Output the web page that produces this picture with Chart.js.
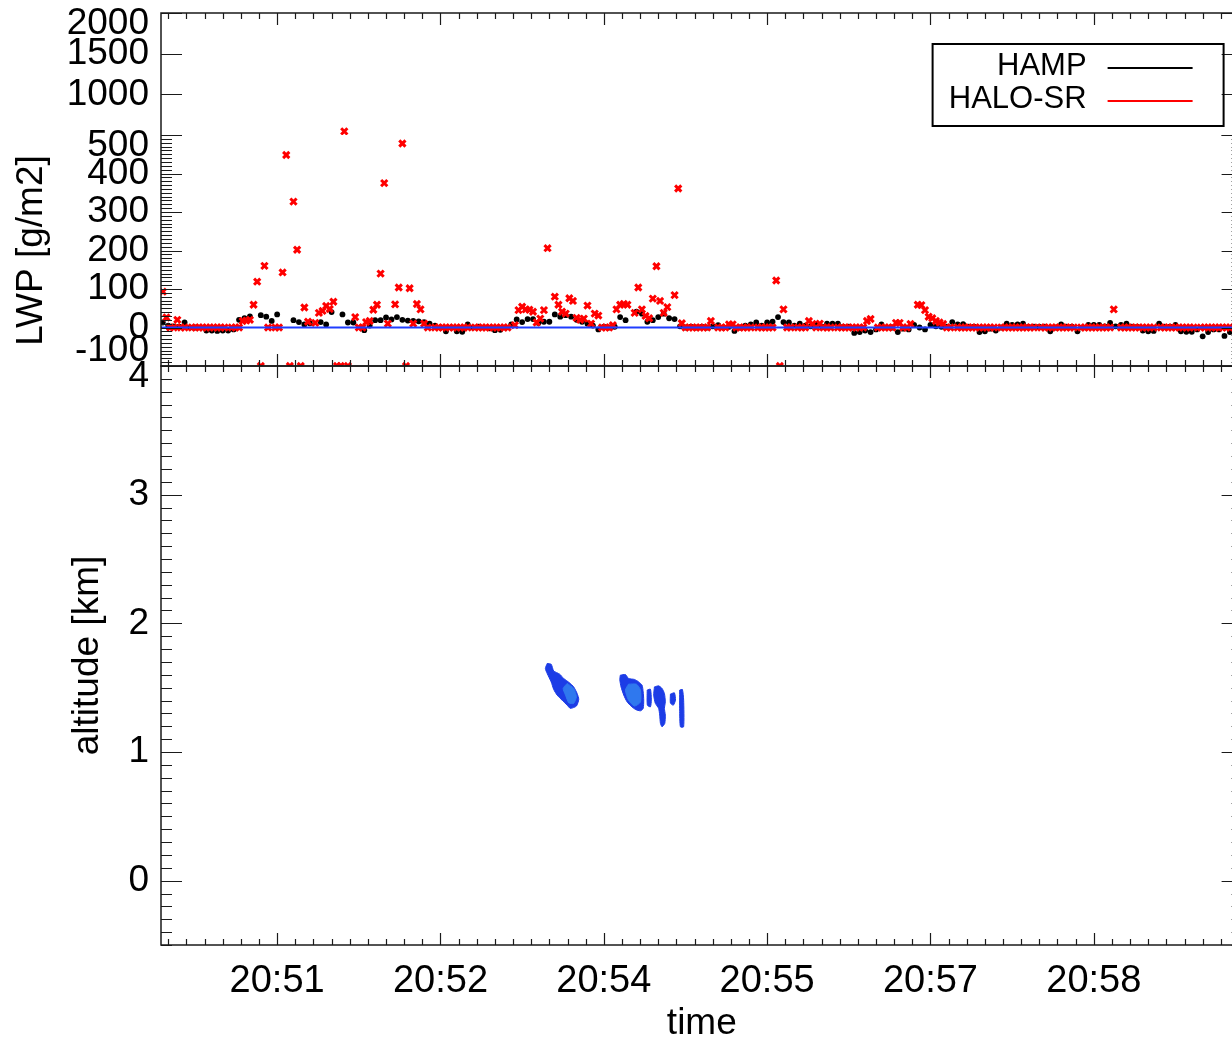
<!DOCTYPE html>
<html>
<head>
<meta charset="utf-8">
<script src="https://cdn.jsdelivr.net/npm/chart.js@4.4.1/dist/chart.umd.min.js"></script>
<style>
  html, body { margin: 0; padding: 0; background: #fff; overflow: hidden; }
  #chart { display: block; }
</style>
</head>
<body>
<canvas id="chart" width="1250" height="1040"></canvas>
<script>
// Tempo em segundos depois de 20:00:00
var timeMin = 2996;
var timeMax = 3592;
var timeTicks = [3060, 3150, 3240, 3330, 3420, 3510];
var timeTickLabels = ['20:51', '20:52', '20:54', '20:55', '20:57', '20:58'];

var lwpTicks = [-100, 0, 100, 200, 300, 400, 500];
var lwpHighTicks = [500, 1000, 1500, 2000];
var altTicks = [0, 1, 2, 3, 4];

// HALO-SR: um valor a cada 2 s a partir de 20:49:57 (g/m2)
var srStart = 2997;
var srStep = 2;
var srLwp = [
  93, 26, 0, 0, 20, 0, 0, null, 0, 0,
  0, 0, 0, 0, 0, 0, 0, 0, null, 0,
  0, 0, 17, 18, 20, 59, 119, -100, 160, 0,
  null, 0, 0, 143, 448, -100, 327, 202, -100, 52,
  15, null, 12, 38, 43, 56, 48, 67, -100, -100,
  545, -100, null, 27, 0, 0, 14, 17, 46, 59,
  140, 375, 10, null, 60, 104, 478, -100, 102, 10,
  61, 47, 10, 0, null, 0, 0, 0, 0, 0,
  0, 0, 0, 0, 0, null, 0, 0, 0, 0,
  0, 0, 0, 0, 0, 0, null, 6, 45, 54,
  47, 46, 41, 13, 23, 45, 206, null, 80, 59,
  41, 36, 76, 69, 25, 20, 23, 57, 10, 36,
  31, 0, 0, 0, 6, 47, 59, 61, 59, null,
  38, 104, 47, 30, 24, 75, 159, 69, 38, 53,
  null, 84, 361, 11, 0, 0, 0, 0, 0, 0,
  0, 17, null, 0, 0, 0, 8, 8, 0, 0,
  0, 0, 0, null, 0, 0, 0, 0, 0, 122,
  -100, 47, 0, 0, null, 0, 0, 0, 17, 9,
  0, 10, 0, 0, 0, null, 0, 0, 0, 0,
  0, 0, 0, 0, 17, 22, null, 0, 0, 0,
  0, 0, 12, 12, 0, 0, 9, null, 59, 58,
  45, 28, 24, 17, 13, 9, 0, 0, null, 0,
  0, 0, 0, 0, 0, 0, 0, 0, 0, 0,
  null, 0, 0, 0, 0, 0, 0, 0, 0, 0,
  0, null, 0, 0, 0, 0, 0, 0, 0, 0,
  0, 0, null, 0, 0, 0, 0, 0, 0, 0,
  0, 0, 47, null, 0, 0, 0, 0, 0, 0,
  0, 0, 0, 0, null, 0, 0, 0, 0, 0,
  0, 0, 0, 0, 0, null, 0, 0, 0, 0,
  0, 0, 0, 0, 0, 0, null, 0
];

// HAMP: um valor a cada 3 s a partir de 20:49:57 (g/m2)
var hampStart = 2997;
var hampStep = 3;
var hampLwp = [
  13, 5, 3, 2, 13, 0, 0, 0, -8, -8,
  -9, -8, -8, -5, 20, 24, 29, null, 32, 28,
  17, 34, null, null, 19, 14, 8, 11, null, 14,
  8, 40, null, 34, 13, 13, null, -7, 5, 19,
  19, 26, 21, 27, 20, 18, 17, 16, 14, 10,
  5, 0, -10, null, -10, -11, 8, 0, 2, 0,
  -2, -7, -6, 0, 8, 21, 14, 22, 22, 12,
  15, 15, 34, 28, 32, 28, 20, 15, 10, 5,
  -5, 2, 0, 2, 27, 19, null, 41, 36, 15,
  19, 27, 36, 24, 22, 3, 0, 2, 0, 2,
  0, 3, 6, 0, 2, -9, 0, 5, 8, 13,
  5, 13, 15, 27, 14, 13, 5, 10, 5, 3,
  8, 3, 10, 10, 10, 2, 2, -14, -12, -8,
  -12, -5, 8, 0, 0, -12, -3, -5, 7, 0,
  -5, 7, 3, 2, 2, 14, 8, 9, 2, 2,
  -12, -10, -3, -8, 0, 10, 7, 8, 10, 2,
  2, 2, 2, -10, 0, 8, 2, 2, -10, 0,
  7, 7, 7, 3, 12, 3, 7, 10, 2, 2,
  -8, -10, -9, 10, 2, 2, 7, -10, -11, -11,
  -5, -23, -12, -5, -5, -22, -12, -10, -8
];

// Linha de referência LWP = 0
var zeroLineTimes = [timeMin, timeMax];
var zeroLineLwp = [0, 0];

// Contornos das nuvens: [tempo (s), altitude (km)]
var cloudA = [[3208.8, 1.688], [3211.0, 1.682], [3212.4, 1.630], [3215.7, 1.605], [3217.9, 1.571],
  [3221.2, 1.537], [3223.4, 1.506], [3225.3, 1.455], [3226.2, 1.409], [3224.9, 1.357],
  [3221.6, 1.339], [3219.8, 1.364], [3217.0, 1.403], [3214.3, 1.442], [3212.4, 1.486],
  [3211.0, 1.545], [3208.8, 1.610], [3207.8, 1.649]];
var cloudAcore = [[3219.8, 1.533], [3223.4, 1.494], [3224.9, 1.429], [3223.4, 1.378],
  [3220.7, 1.382], [3218.9, 1.442], [3217.6, 1.494]];
var cloudB = [[3249.1, 1.597], [3251.9, 1.602], [3253.7, 1.571], [3256.9, 1.564], [3259.2, 1.545],
  [3261.1, 1.519], [3261.7, 1.467], [3262.0, 1.403], [3261.7, 1.339], [3260.2, 1.320],
  [3257.4, 1.331], [3255.0, 1.357], [3252.8, 1.390], [3251.0, 1.442], [3249.5, 1.506],
  [3248.8, 1.564]];
var cloudBcore = [[3253.6, 1.527], [3258.0, 1.527], [3260.2, 1.481], [3260.2, 1.388],
  [3256.9, 1.357], [3253.6, 1.403], [3251.9, 1.481]];
var cloudC = [[3263.9, 1.481], [3265.7, 1.488], [3266.2, 1.403], [3265.7, 1.351], [3264.0, 1.364]];
var cloudD = [[3267.9, 1.506], [3270.2, 1.514], [3272.1, 1.494], [3273.4, 1.455], [3273.9, 1.390],
  [3273.4, 1.339], [3273.9, 1.287], [3273.6, 1.222], [3272.1, 1.196], [3271.2, 1.222],
  [3270.8, 1.287], [3270.2, 1.339], [3268.4, 1.378], [3267.5, 1.442]];
var cloudE = [[3276.7, 1.450], [3278.9, 1.460], [3279.5, 1.403], [3278.3, 1.364], [3276.7, 1.380]];
var cloudF = [[3281.8, 1.481], [3283.3, 1.486], [3284.0, 1.403], [3284.0, 1.196], [3282.2, 1.196],
  [3281.8, 1.326]];

var fontFamily = '"Liberation Sans", Arial, Helvetica, sans-serif';
Chart.defaults.font.family = fontFamily;
Chart.defaults.color = '#000';

// Monta os pontos das séries
function seriesPoints(start, step, values, keep) {
  var pts = [];
  for (var i = 0; i < values.length; i++) {
    var v = values[i];
    if (v !== null && keep(v)) pts.push({ x: start + i * step, y: v });
  }
  return pts;
}

function polygon(points, color) {
  var data = points.map(function (p) { return { x: p[0], y: p[1] }; });
  data.push({ x: points[0][0], y: points[0][1] });
  return {
    data: data,
    yAxisID: 'yAlt',
    showLine: true,
    fill: 'shape',
    backgroundColor: color,
    borderColor: color,
    borderWidth: 1,
    pointRadius: 0,
    tension: 0.2
  };
}

var darkBlue = '#1c3ce6';
var lightBlue = '#2f78ee';

var datasets = [
  {
    label: 'zero',
    data: zeroLineTimes.map(function (t, i) { return { x: t, y: zeroLineLwp[i] }; }),
    yAxisID: 'yLow',
    showLine: true,
    borderColor: '#1f3dff',
    borderWidth: 2,
    pointRadius: 0
  },
  {
    label: 'HALO-SR',
    inKey: true,
    data: seriesPoints(srStart, srStep, srLwp, function (v) { return v <= 500; }),
    yAxisID: 'yLow',
    pointStyle: 'crossRot',
    pointRadius: 4.4,
    pointBorderWidth: 3,
    borderColor: '#ff0000',
    backgroundColor: '#ff0000'
  },
  {
    label: 'HALO-SR (>500)',
    data: seriesPoints(srStart, srStep, srLwp, function (v) { return v > 500; }),
    yAxisID: 'yHigh',
    pointStyle: 'crossRot',
    pointRadius: 4.4,
    pointBorderWidth: 3,
    borderColor: '#ff0000',
    backgroundColor: '#ff0000'
  },
  {
    label: 'HAMP',
    inKey: true,
    data: seriesPoints(hampStart, hampStep, hampLwp, function () { return true; }),
    yAxisID: 'yLow',
    pointStyle: 'circle',
    pointRadius: 2.9,
    pointBorderWidth: 0,
    borderColor: '#000000',
    backgroundColor: '#000000'
  },
  polygon(cloudAcore, lightBlue),
  polygon(cloudBcore, lightBlue),
  polygon(cloudA, darkBlue),
  polygon(cloudB, darkBlue),
  polygon(cloudC, darkBlue),
  polygon(cloudD, darkBlue),
  polygon(cloudE, darkBlue),
  polygon(cloudF, darkBlue)
];

// Eixos no estilo IDL: marcas para dentro nos quatro lados, rótulos e legenda
var idlAxes = {
  id: 'idlAxes',
  afterDraw: function (chart) {
    var ctx = chart.ctx;
    var sx = chart.scales.x;
    var yHigh = chart.scales.yHigh, yLow = chart.scales.yLow, yAlt = chart.scales.yAlt;
    var left = chart.chartArea.left, right = chart.chartArea.right;
    ctx.save();
    ctx.strokeStyle = '#1a1a1a';
    ctx.lineWidth = 1.2;

    function yTick(scale, v, len) {
      var p = Math.round(scale.getPixelForValue(v)) + 0.5;
      ctx.beginPath();
      ctx.moveTo(left, p); ctx.lineTo(left + len, p);
      ctx.moveTo(right, p); ctx.lineTo(right - len, p);
      ctx.stroke();
    }
    lwpHighTicks.forEach(function (v) { yTick(yHigh, v, 21); });
    for (var v = -100; v <= 500; v += 10) yTick(yLow, v, v % 100 === 0 ? 21 : 11);
    for (var k = -5; k <= 40; k++) yTick(yAlt, k / 10, k % 10 === 0 ? 21 : 11);

    function xTicks(yEdge, dir) {
      for (var t = Math.ceil(timeMin / 10) * 10; t <= timeMax; t += 10) {
        var len = timeTicks.indexOf(t) >= 0 ? 12 : 6;
        var p = Math.round(sx.getPixelForValue(t)) + 0.5;
        ctx.beginPath();
        ctx.moveTo(p, yEdge); ctx.lineTo(p, yEdge + dir * len);
        ctx.stroke();
      }
    }
    xTicks(yHigh.top, 1);
    xTicks(yLow.bottom, -1);
    xTicks(yAlt.top, 1);
    xTicks(yAlt.bottom, -1);

    ctx.lineWidth = 1.5;
    ctx.strokeRect(left, yHigh.top, right - left, yLow.bottom - yHigh.top);
    ctx.strokeRect(left, yAlt.top, right - left, yAlt.bottom - yAlt.top);

    // rótulos dos eixos y
    ctx.fillStyle = '#000';
    ctx.font = '37px ' + fontFamily;
    ctx.textAlign = 'right';
    ctx.textBaseline = 'middle';
    function yLabels(scale, ticks, skipMin) {
      ticks.forEach(function (v) {
        if (skipMin && v === scale.min) return;
        var p = scale.getPixelForValue(v);
        p = Math.max(scale.top + 11, Math.min(scale.bottom - 15, p));
        ctx.fillText(String(v), left - 12, p);
      });
    }
    yLabels(yHigh, lwpHighTicks, true);
    yLabels(yLow, lwpTicks, false);
    yLabels(yAlt, altTicks, false);

    // legenda
    var items = chart.data.datasets.filter(function (d) { return d.inKey; });
    items.sort(function (a, b) { return a.label === 'HAMP' ? -1 : 1; });
    var bx = right - 310, by = chart.chartArea.top + 31;
    ctx.lineWidth = 2;
    ctx.strokeStyle = '#000';
    ctx.strokeRect(bx, by, 291, 82);
    ctx.font = '31px ' + fontFamily;
    items.forEach(function (d, i) {
      var ry = by + 24 + i * 33;
      ctx.fillStyle = '#000';
      ctx.fillText(d.label, bx + 154, ry - 2);
      ctx.strokeStyle = d.borderColor;
      ctx.beginPath();
      ctx.moveTo(bx + 175, ry); ctx.lineTo(bx + 260, ry);
      ctx.stroke();
    });
    ctx.restore();
  }
};

function hiddenAxis(extra) {
  var base = {
    type: 'linear',
    position: 'left',
    stack: 'panels',
    ticks: { display: false },
    grid: { display: false, drawTicks: false },
    border: { display: false },
    afterFit: function (scale) { scale.width = 161; }
  };
  return Object.assign(base, extra);
}

new Chart(document.getElementById('chart').getContext('2d'), {
  type: 'scatter',
  data: { datasets: datasets },
  options: {
    responsive: false,
    animation: false,
    events: [],
    layout: { padding: { top: 13, right: 7, left: 0, bottom: 0 } },
    plugins: { legend: { display: false }, tooltip: { enabled: false } },
    scales: {
      x: {
        type: 'linear',
        position: 'bottom',
        min: timeMin,
        max: timeMax,
        afterBuildTicks: function (scale) {
          scale.ticks = timeTicks.map(function (t) { return { value: t }; });
        },
        ticks: {
          autoSkip: false,
          maxRotation: 0,
          padding: 14,
          font: { size: 38 },
          color: '#000',
          callback: function (value, index) { return timeTickLabels[index]; }
        },
        grid: { display: false, drawTicks: false },
        border: { display: false },
        title: { display: true, text: 'time', font: { size: 37, lineHeight: 0.9 }, padding: { top: 0, bottom: 0 } },
        afterFit: function (scale) { scale.height = 95; }
      },
      yHigh: hiddenAxis({ min: 500, max: 2000, stackWeight: 122, weight: 3 }),
      yLow: hiddenAxis({
        min: -100, max: 500, stackWeight: 231, weight: 2,
        title: { display: true, text: 'LWP [g/m2]', font: { size: 37 }, padding: { top: 10, bottom: 0 } }
      }),
      yAlt: hiddenAxis({
        min: -0.5, max: 4, stackWeight: 579, weight: 1,
        title: { display: true, text: 'altitude [km]', font: { size: 37 }, padding: { top: 66, bottom: 0 } }
      })
    }
  },
  plugins: [idlAxes]
});
</script>
</body>
</html>
